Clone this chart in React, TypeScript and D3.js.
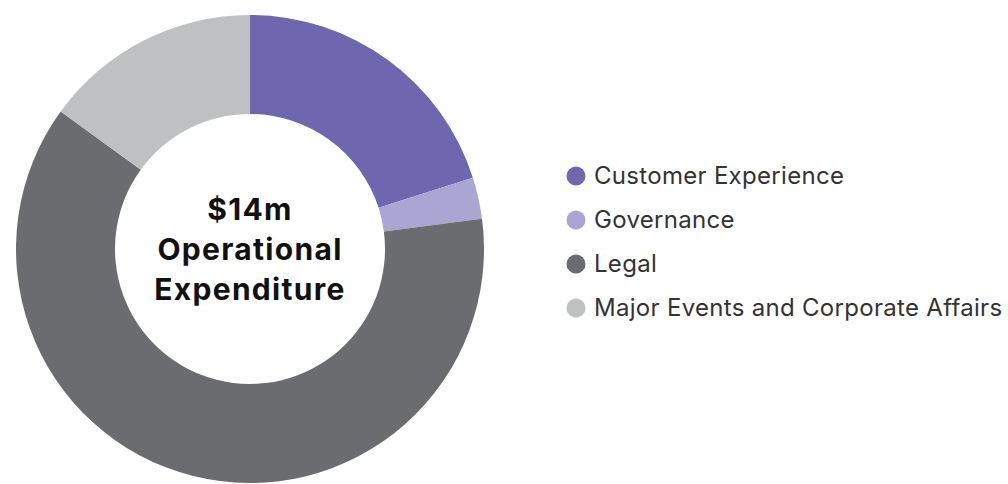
import React from "react";
import * as d3 from "d3";

const categories = [
  "Customer Experience",
  "Governance",
  "Legal",
  "Major Events and Corporate Affairs",
];
const values = [2.81, 0.4, 8.69, 2.1]; // $m
const colors = ["#6e67b0", "#aba5d3", "#6b6c70", "#bfc0c2"];
const centreLines = ["$14m", "Operational", "Expenditure"];

const width = 1008;
const height = 484;

export default function App() {
  const cx = 250;
  const cy = 249;
  const outer = 234;
  const inner = 135;

  const pie = d3
    .pie<number>()
    .sort(null)
    .value((d) => d);
  const arcs = pie(values);
  const arc = d3.arc<d3.PieArcDatum<number>>().innerRadius(inner).outerRadius(outer);

  const legendY = d3
    .scalePoint<string>()
    .domain(categories)
    .range([176, 308]);

  return (
    <svg
      width={width}
      height={height}
      style={{ position: "absolute", left: 0, top: 0, background: "#fff" }}
      fontFamily="Inter, 'Noto Sans', sans-serif"
    >
      <g transform={`translate(${cx}, ${cy})`}>
        {arcs.map((a, i) => (
          <path key={i} d={arc(a) || ""} fill={colors[i]} />
        ))}
        {centreLines.map((t, i) => (
          <text
            key={t}
            x={0}
            y={(i - 1) * 40}
            dy="0.36em"
            textAnchor="middle"
            fontSize={30}
            fontWeight={700}
            letterSpacing={1.3}
            fill="#111"
          >
            {t}
          </text>
        ))}
      </g>
      <g>
        {categories.map((c, i) => (
          <g key={c} transform={`translate(576, ${legendY(c)})`}>
            <circle r={9.5} fill={colors[i]} />
            <text x={18} dy="0.35em" fontSize={24} letterSpacing={0.3} fill="#333">
              {c}
            </text>
          </g>
        ))}
      </g>
    </svg>
  );
}
